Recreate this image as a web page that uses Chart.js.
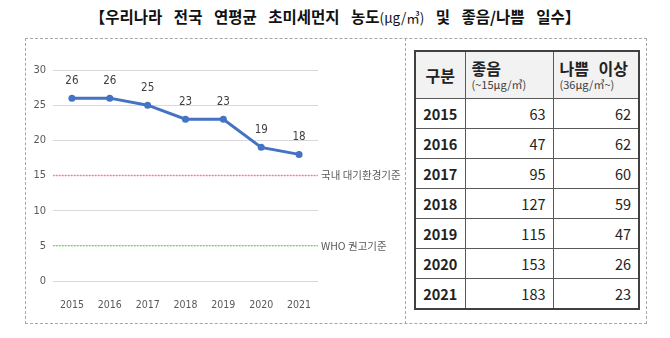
<!DOCTYPE html>
<html>
<head>
<meta charset="utf-8">
<script src="https://cdn.jsdelivr.net/npm/chart.js@4"></script>
<style>
body{margin:0;width:670px;height:338px;background:#fff;position:relative;overflow:hidden;font-family:"Noto Sans CJK KR",sans-serif;}
.title{position:absolute;left:0;top:5px;width:670px;text-align:center;font-size:15.5px;font-weight:bold;color:#111;word-spacing:8px;white-space:nowrap;}
.title span{font-weight:normal;font-size:13.5px;word-spacing:0;}
.box{position:absolute;left:25px;top:38px;width:620px;height:284px;border:1px dashed #a6a6a6;}
.divider{position:absolute;left:405px;top:38px;height:286px;border-left:1px dashed #a6a6a6;}
#chart{position:absolute;left:26px;top:40px;}
table{position:absolute;left:414px;top:50px;border-collapse:collapse;border:2px solid #404040;color:#222;}
td,th{border:1px solid #595959;padding:0;}
thead th{background:#f2f2f2;height:46px;text-align:left;vertical-align:middle;font-size:16px;font-weight:bold;line-height:17px;word-spacing:6px;}
thead th.k{text-align:center;}
thead th small{display:block;font-size:11px;font-weight:normal;color:#404040;line-height:14px;word-spacing:0;}
tbody td{height:29px;font-size:14.5px;text-align:right;padding-right:7px;}
tbody td.y{font-weight:bold;text-align:center;padding-right:0;}
</style>
</head>
<body>
<div class="title">【우리나라 전국 연평균 초미세먼지 농도<span>(μg/㎥)</span> 및 좋음/나쁨 일수】</div>
<div class="box"></div>
<div class="divider"></div>
<canvas id="chart" width="378" height="280"></canvas>
<table id="tbl"></table>
<script>
var years=['2015','2016','2017','2018','2019','2020','2021'];
var pm25=[26,26,25,23,23,19,18];
var goodDays=[63,47,95,127,115,153,183];
var badDays=[62,62,60,59,47,26,23];
var refValues=[15,5];
var refLabels=['국내 대기환경기준','WHO 권고기준'];
var refColors=['#ff7c80','#7fd36f'];
var headers=['구분','좋음','나쁨 이상'];
var subHeaders=['','(~15μg/㎥)','(36μg/㎥~)'];

function table() {
  var t=document.getElementById('tbl');
  var h='<colgroup><col style="width:50px"><col style="width:88px"><col style="width:86px"></colgroup><thead><tr>';
  for(var i=0;i<headers.length;i++){
    if(i==0){
      h+='<th class="k">'+headers[i]+'</th>';
    }else{
      h+='<th style="padding-left:6px">'+headers[i]+'<small>'+subHeaders[i]+'</small></th>';
    }
  }
  h+='</tr></thead><tbody>';
  for(var i=0;i<years.length;i++){
    h+='<tr><td class="y">'+years[i]+'</td><td>'+goodDays[i]+'</td><td>'+badDays[i]+'</td></tr>';
  }
  h+='</tbody>';
  t.innerHTML=h;
}

var refLines={
  id:'refLines',
  beforeDatasetsDraw:function(chart){
    var ctx=chart.ctx, a=chart.chartArea, y=chart.scales.y;
    ctx.save();
    for(var i=0;i<refValues.length;i++){
      var py=y.getPixelForValue(refValues[i]);
      ctx.strokeStyle=refColors[i];
      ctx.lineWidth=1.5;
      ctx.setLineDash([1.5,1.5]);
      ctx.beginPath();
      ctx.moveTo(a.left,py);
      ctx.lineTo(a.right,py);
      ctx.stroke();
      ctx.fillStyle='#595959';
      ctx.font='10.5px "Noto Sans CJK KR"';
      ctx.textBaseline='middle';
      ctx.textAlign='left';
      ctx.fillText(refLabels[i],a.right+3,py);
    }
    ctx.restore();
  }
};

var valueLabels={
  id:'valueLabels',
  afterDatasetsDraw:function(chart){
    var ctx=chart.ctx, meta=chart.getDatasetMeta(0);
    ctx.save();
    ctx.fillStyle='#404040';
    ctx.font='11.5px "Liberation Sans Narrow","DejaVu Sans Condensed",sans-serif';
    ctx.textAlign='center';
    ctx.textBaseline='middle';
    for(var i=0;i<meta.data.length;i++){
      ctx.fillText(pm25[i],meta.data[i].x,meta.data[i].y-17);
    }
    ctx.restore();
  }
};

function lineChart() {
  var data={labels:years,datasets:[{data:pm25,borderColor:'#4472c4',backgroundColor:'#4472c4',borderWidth:3,pointRadius:3.5,pointBorderWidth:0,tension:0}]};
  new Chart(document.getElementById('chart').getContext('2d'),{
    type:'line',
    data:data,
    plugins:[refLines,valueLabels],
    options:{
      responsive:false,
      animation:false,
      layout:{padding:{top:30,right:86,bottom:9,left:0}},
      plugins:{legend:{display:false},tooltip:{enabled:false}},
      scales:{
        x:{offset:true,grid:{display:false},border:{display:false},
          ticks:{padding:10,color:'#595959',font:{size:10.5,family:'"Liberation Sans Narrow","DejaVu Sans Condensed",sans-serif'}},
          afterFit:function(s){s.height=30;}},
        y:{min:0,max:30,grid:{color:'#d9d9d9',drawTicks:false},border:{display:false},
          ticks:{stepSize:5,padding:7,color:'#595959',font:{size:11,family:'"Liberation Sans Narrow","DejaVu Sans Condensed",sans-serif'}},
          afterFit:function(s){s.width=27;}}
      }
    }
  });
}

table();
lineChart();
</script>
</body>
</html>
